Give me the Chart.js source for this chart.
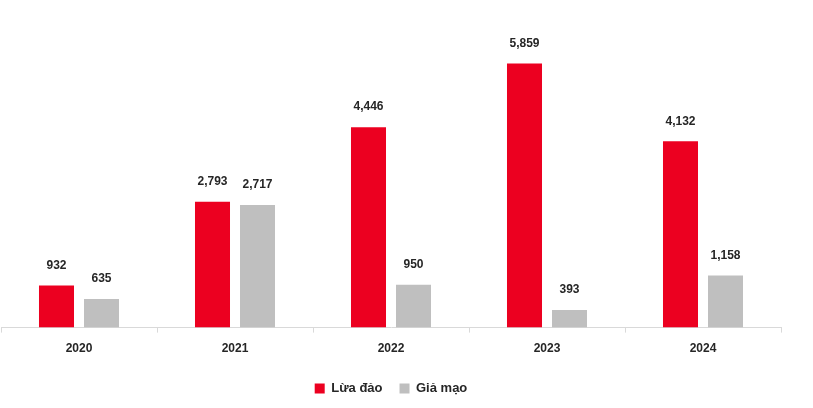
<!DOCTYPE html>
<html>
<head>
<meta charset="utf-8">
<script src="https://cdn.jsdelivr.net/npm/chart.js@4/dist/chart.umd.min.js"></script>
<style>
  html, body { margin: 0; padding: 0; background: #ffffff; }
  #wrap { width: 813px; height: 408px; }
</style>
</head>
<body>
<div id="wrap"><canvas id="c"></canvas></div>
<script>
const categories = ['2020', '2021', '2022', '2023', '2024'];
const luaDao = [932, 2793, 4446, 5859, 4132];
const giaMao = [635, 2717, 950, 393, 1158];
const seriesNames = ['Lừa đảo', 'Giả mạo'];

const valueLabels = {
  id: 'valueLabels',
  afterDatasetsDraw(chart) {
    const ctx = chart.ctx;
    ctx.save();
    ctx.font = 'bold 12px "Liberation Sans", Arial, sans-serif';
    ctx.fillStyle = '#262626';
    ctx.textAlign = 'center';
    ctx.textBaseline = 'middle';
    chart.data.datasets.forEach((ds, i) => {
      const meta = chart.getDatasetMeta(i);
      meta.data.forEach((bar, j) => {
        ctx.fillText(ds.data[j].toLocaleString('en-US'), bar.x, bar.y - 20);
      });
    });
    ctx.restore();
  }
};

new Chart(document.getElementById('c'), {
  type: 'bar',
  data: {
    labels: categories,
    datasets: [
      { label: seriesNames[0], data: luaDao, backgroundColor: '#EC0020', categoryPercentage: 0.577, barPercentage: 0.778 },
      { label: seriesNames[1], data: giaMao, backgroundColor: '#BFBFBF', categoryPercentage: 0.577, barPercentage: 0.778 }
    ]
  },
  options: {
    responsive: true,
    maintainAspectRatio: false,
    animation: false,
    layout: { padding: { top: 12, left: 1, right: 32, bottom: 3 } },
    scales: {
      x: {
        grid: { display: true, drawOnChartArea: false, drawTicks: true, tickLength: 5, color: '#D9D9D9', offset: true },
        border: { display: true, color: '#D9D9D9', width: 1 },
        ticks: { color: '#262626', font: { family: '"Liberation Sans", Arial, sans-serif', weight: 'bold', size: 12 }, padding: 9 }
      },
      y: { display: false, min: 0, max: 7000 }
    },
    plugins: {
      legend: {
        position: 'bottom',
        labels: {
          boxWidth: 10, boxHeight: 10, padding: 17,
          color: '#262626',
          font: { family: '"Liberation Sans", Arial, sans-serif', weight: 'bold', size: 13 }
        }
      },
      tooltip: { enabled: false }
    }
  },
  plugins: [valueLabels]
});
</script>
</body>
</html>
